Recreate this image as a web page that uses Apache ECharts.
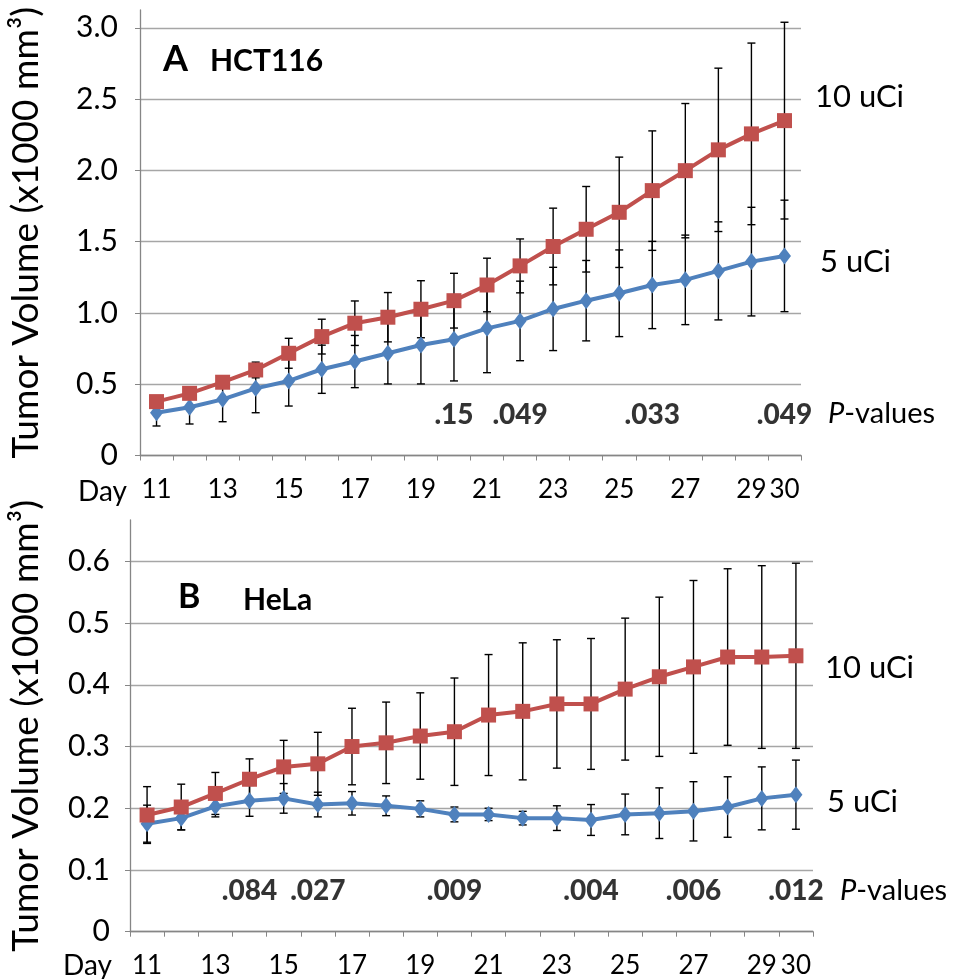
<!DOCTYPE html>
<html>
<head>
<meta charset="utf-8">
<script src="https://cdn.jsdelivr.net/npm/echarts@6/dist/echarts.min.js"></script>
<style>
html,body{margin:0;padding:0;background:#fff;}
#chart{width:954px;height:979px;}
</style>
</head>
<body>
<div id="chart"></div>
<script>
// ---------- data ----------
const days = ['11','12','13','14','15','16','17','18','19','20','21','22','23','24','25','26','27','28','29','30'];

// Panel A: HCT116 (x1000 mm3)
const hct_10uCi     = [0.378,0.436,0.514,0.600,0.717,0.834,0.928,0.970,1.026,1.086,1.196,1.330,1.466,1.587,1.706,1.858,1.998,2.144,2.256,2.349];
const hct_10uCi_err = [0.020,0.030,0.040,0.055,0.105,0.122,0.156,0.173,0.200,0.192,0.188,0.189,0.269,0.300,0.387,0.419,0.471,0.573,0.637,0.690];
const hct_5uCi      = [0.300,0.338,0.394,0.471,0.523,0.605,0.659,0.717,0.775,0.815,0.892,0.944,1.028,1.086,1.138,1.196,1.232,1.295,1.360,1.400];
const hct_5uCi_err  = [0.093,0.117,0.157,0.171,0.176,0.169,0.183,0.215,0.273,0.292,0.311,0.279,0.292,0.282,0.304,0.306,0.314,0.344,0.381,0.391];
const hct_pDays   = ['20','22','26','30'];
const hct_pValues = ['.15','.049','.033','.049'];

// Panel B: HeLa (x1000 mm3)
const hela_10uCi     = [0.189,0.202,0.224,0.247,0.267,0.272,0.300,0.306,0.317,0.324,0.351,0.357,0.369,0.369,0.393,0.413,0.429,0.445,0.445,0.447];
const hela_10uCi_err = [0.046,0.037,0.034,0.033,0.043,0.051,0.062,0.066,0.070,0.087,0.098,0.111,0.104,0.106,0.115,0.129,0.140,0.143,0.148,0.150];
const hela_5uCi      = [0.175,0.184,0.203,0.212,0.216,0.206,0.208,0.204,0.199,0.190,0.190,0.184,0.184,0.181,0.190,0.192,0.195,0.202,0.216,0.222];
const hela_5uCi_err  = [0.030,0.019,0.017,0.025,0.024,0.020,0.019,0.016,0.013,0.012,0.010,0.011,0.020,0.025,0.033,0.041,0.048,0.049,0.051,0.056];
const hela_pDays   = ['14','16','20','24','27','30'];
const hela_pValues = ['.084','.027','.009','.004','.006','.012'];

// ---------- helpers ----------
const FONT = 'Lato, "Open Sans", sans-serif';
const RED = '#C0504D', BLUE = '#4F81BD';
const GRID_C = '#a6a6a6', AXIS_C = '#868686';

function errData(mean, err) {
  return mean.map((m, i) => [i, m - err[i], m + err[i]]);
}
function errRender(params, api) {
  const x = api.value(0);
  const lo = api.coord([x, api.value(1)]);
  const hi = api.coord([x, api.value(2)]);
  const w = 4;
  const st = { stroke: '#000', lineWidth: 1.4 };
  return {
    type: 'group',
    children: [
      { type: 'line', shape: { x1: hi[0], y1: hi[1], x2: lo[0], y2: lo[1] }, style: st },
      { type: 'line', shape: { x1: hi[0] - w, y1: hi[1], x2: hi[0] + w, y2: hi[1] }, style: st },
      { type: 'line', shape: { x1: lo[0] - w, y1: lo[1], x2: lo[0] + w, y2: lo[1] }, style: st }
    ]
  };
}

function xAxisCfg(gridIndex) {
  return {
    type: 'category', gridIndex, data: days, boundaryGap: true,
    axisLine: { lineStyle: { color: AXIS_C, width: 1.3 } },
    axisTick: { show: true, interval: 0, length: 5, lineStyle: { color: AXIS_C } },
    axisLabel: {
      interval: (idx, val) => (Number(val) % 2 === 1 || val === '30'),
      color: '#000', fontFamily: FONT, fontSize: 26, margin: 21
    },
    splitLine: { show: false }
  };
}
function yAxisCfg(gridIndex, max, interval, nameGap, margin) {
  return {
    type: 'value', gridIndex, min: 0, max, interval,
    name: 'Tumor Volume (x1000 mm³)', nameLocation: 'middle', nameGap,
    nameTextStyle: { color: '#000', fontFamily: FONT, fontSize: 37 },
    axisLine: { show: true, lineStyle: { color: AXIS_C, width: 1.3 } },
    axisTick: { show: true, length: 5, lineStyle: { color: AXIS_C } },
    axisLabel: {
      color: '#000', fontFamily: FONT, fontSize: 30, margin, showMaxLabel: false,
      formatter: v => (v === 0 ? '0' : v.toFixed(1))
    },
    splitLine: { show: true, showMaxLine: false, lineStyle: { color: GRID_C, width: 1.3 } }
  };
}
function lineSeries(idx, data, color, symbol, size) {
  return {
    type: 'line', xAxisIndex: idx, yAxisIndex: idx, data,
    symbol, symbolSize: size, z: 3,
    lineStyle: { color, width: 4 },
    itemStyle: { color, borderWidth: 0 }
  };
}
function errSeries(idx, mean, err) {
  return {
    type: 'custom', xAxisIndex: idx, yAxisIndex: idx, data: errData(mean, err),
    renderItem: errRender, encode: { x: 0, y: [1, 2] }, z: 2, silent: true
  };
}
function pSeries(idx, pDays, pVals, yPos) {
  return {
    type: 'scatter', xAxisIndex: idx, yAxisIndex: idx, symbolSize: 0, z: 4, silent: true,
    itemStyle: { color: 'transparent' },
    data: pDays.map(d => [d, yPos]),
    label: {
      show: true, position: 'inside', color: '#000',
      fontFamily: FONT, fontSize: 28, fontWeight: 900,
      formatter: p => '{b|' + pVals[p.dataIndex] + '}',
      rich: { b: { color: '#000', fontFamily: FONT, fontSize: 28, fontWeight: 900 } }
    }
  };
}
function txt(text, x, y, size, weight, extra) {
  return {
    type: 'text', x, y, silent: true,
    style: Object.assign({
      text, fill: '#000', font: `${weight} ${size}px ${FONT}`,
      textAlign: 'left', textVerticalAlign: 'middle'
    }, extra || {})
  };
}

const chart = echarts.init(document.getElementById('chart'), null, { renderer: 'canvas' });
chart.setOption({
  backgroundColor: '#fff',
  animation: false,
  grid: [
    { left: 139, right: 153, top: 10, bottom: 523.5 },
    { left: 128, right: 141, top: 520, bottom: 47.3 }
  ],
  xAxis: [xAxisCfg(0), xAxisCfg(1)],
  yAxis: [yAxisCfg(0, 3.125, 0.5, 95, 22), yAxisCfg(1, 0.667, 0.1, 85, 20)],
  series: [
    errSeries(0, hct_5uCi, hct_5uCi_err),
    errSeries(0, hct_10uCi, hct_10uCi_err),
    lineSeries(0, hct_5uCi, BLUE, 'diamond', [13, 17]),
    lineSeries(0, hct_10uCi, RED, 'rect', 15),
    pSeries(0, hct_pDays, hct_pValues, 0.284),
    errSeries(1, hela_5uCi, hela_5uCi_err),
    errSeries(1, hela_10uCi, hela_10uCi_err),
    lineSeries(1, hela_5uCi, BLUE, 'diamond', [13, 17]),
    lineSeries(1, hela_10uCi, RED, 'rect', 15),
    pSeries(1, hela_pDays, hela_pValues, 0.066)
  ],
  graphic: [
    txt('Day', 78, 492, 28, 'normal'),
    txt('Day', 63, 966, 28, 'normal'),
    txt('A', 163, 59, 36, 'bold'),
    txt('HCT116', 210, 61, 30, 'bold'),
    txt('B', 178, 597, 34, 'bold'),
    txt('HeLa', 243, 600, 30, 'bold'),
    txt('10 uCi', 815, 97, 31, 'normal'),
    txt('5 uCi', 820, 262, 31, 'normal'),
    txt('{i|P}-values', 828, 414, 29, 'normal', { rich: { i: { fontStyle: 'italic', fontFamily: FONT, fontSize: 29 } } }),
    txt('10 uCi', 825, 668, 31, 'normal'),
    txt('5 uCi', 827, 802, 31, 'normal'),
    txt('{i|P}-values', 840, 891, 29, 'normal', { rich: { i: { fontStyle: 'italic', fontFamily: FONT, fontSize: 29 } } })
  ]
});
</script>
</body>
</html>
